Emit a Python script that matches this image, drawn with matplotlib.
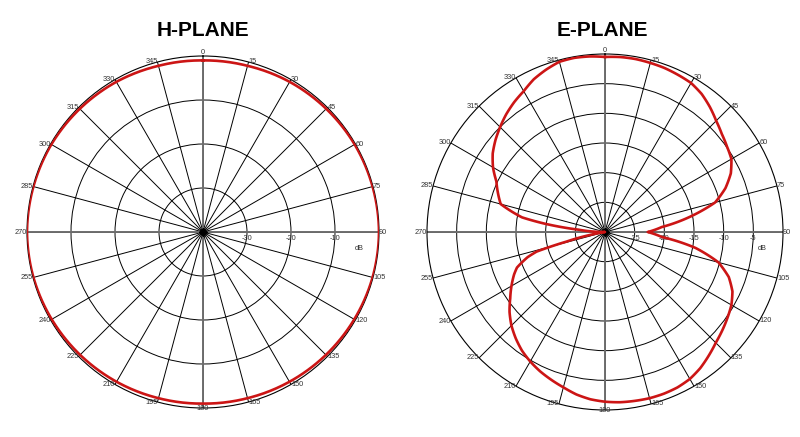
import numpy as np
import matplotlib
matplotlib.use('Agg')
from matplotlib import pyplot as plt

plt.rcParams['font.family'] = ['Liberation Sans', 'DejaVu Sans']

# H-plane: nearly omni, dB vs angle (deg, clockwise from top)
h_angle = [0, 15, 30, 45, 60, 75, 90, 105, 120, 135, 150, 165, 180,
           195, 210, 225, 240, 255, 270, 285, 300, 315, 330, 345, 360]
h_db = [-1.0, -0.9, -0.6, -0.4, -0.2, -0.1, 0.0, -0.1, -0.3, -0.5, -0.7, -0.9, -1.0,
        -0.9, -0.7, -0.5, -0.3, -0.1, 0.0, -0.1, -0.2, -0.4, -0.6, -0.9, -1.0]

# E-plane: figure-eight
e_angle = [0, 5, 10, 15, 20, 25, 30, 35, 40, 45, 50, 55, 60, 65, 70, 75, 80, 85, 90,
           95, 100, 105, 110, 115, 120, 125, 130, 135, 140, 145, 150, 155, 160, 165, 170, 175, 180,
           185, 190, 195, 200, 205, 210, 215, 220, 225, 230, 235, 240, 245, 248, 252, 254, 256, 260, 265, 270,
           275, 278, 280, 285, 290, 295, 300, 305, 310, 315, 320, 325, 330, 335, 340, 345, 350, 355, 360]
e_db = [-0.5, -0.4, -0.4, -0.5, -0.6, -0.8, -1.0, -1.6, -2.5, -3.5, -4.3, -4.9, -5.4, -6.6, -8.4, -10.8, -15.6, -20.4, -22.8,
        -20.4, -14.5, -10.2, -7.8, -6.3, -5.4, -4.8, -4.2, -3.6, -2.8, -2.0, -1.4, -1.1, -1.0, -1.0, -1.1, -1.2, -1.4,
        -1.7, -2.2, -2.9, -3.5, -4.1, -4.8, -5.6, -6.6, -7.7, -9.0, -10.5, -11.8, -13.1, -14.0, -16.3, -18.0, -23.3, -29.0, -29.8, -30.0,
        -25.5, -19.5, -15.8, -11.8, -10.8, -9.8, -8.2, -6.9, -5.9, -5.0, -4.1, -3.3, -2.6, -1.6, -0.9, -0.3, -0.2, -0.3, -0.5]

angle_ticks = list(range(0, 360, 15))
h_rings = [-30, -20, -10]
h_ring_labels = ['-30', '-20', '-10', '0']
e_rings = [-25, -20, -15, -10, -5]
e_ring_labels = ['-25', '-20', '-15', '-10', '-5', '0']

fig = plt.figure(figsize=(8, 4.37), dpi=100)


def polar_panel(rect, rmin, rings, ring_labels, ang, db, title, title_x, db_pos):
    ax = fig.add_axes(rect, projection='polar')
    ax.set_theta_zero_location('N')
    ax.set_theta_direction(-1)
    ax.set_ylim(rmin, 0)
    ax.set_thetagrids(angle_ticks, labels=[])
    ax.set_rgrids(rings, labels=[])
    ax.grid(True, color='black', linewidth=0.7)
    ax.spines['polar'].set_color('black')
    ax.spines['polar'].set_linewidth(0.8)

    # main axes drawn heavier and grey
    for t in [0, np.pi / 2]:
        ax.plot([t, t], [rmin, 0], color='#6e6e6e', lw=1.4, zorder=2)
        ax.plot([t + np.pi, t + np.pi], [rmin, 0], color='#6e6e6e', lw=1.4, zorder=2)
    ax.plot([0], [rmin], marker='D', color='black', ms=4, zorder=4)

    # angle labels around the rim
    for a in angle_ticks:
        s = np.sin(np.radians(a))
        if s > 0.05:
            ha = 'left'
        elif s < -0.05:
            ha = 'right'
        else:
            ha = 'center'
        va = 'bottom' if a == 0 else 'center'
        ax.text(np.radians(a), 0, str(a), ha=ha, va=va, fontsize=5.3,
                color='#333333', zorder=5, clip_on=False)

    # dB scale along 90 deg
    for r, lab in zip(list(rings) + [0], ring_labels):
        if lab == '0':
            continue
        ax.annotate(lab, xy=(np.pi / 2, r), xytext=(0, -2.5), textcoords='offset points',
                    ha='center', va='top', fontsize=5.3, color='#333333', zorder=5)
    ax.annotate('dB', xy=(np.pi / 2, db_pos), xytext=(0, -9), textcoords='offset points',
                ha='center', va='top', fontsize=5.3, color='#333333', zorder=5)

    line, = ax.plot(np.radians(ang), db, color='#cc1515', lw=1.9, zorder=6)
    # follow the polar arcs between the read points, like the grid circles do
    line.get_path()._interpolation_steps = 40
    fig.text(title_x, 1 - 30 / 437, title, ha='center', va='center',
             fontsize=15, fontweight='bold', color='black')
    return ax


polar_panel([(203 - 176) / 800, (437 - 232 - 176) / 437, 352 / 800, 352 / 437],
            -40, h_rings, h_ring_labels, h_angle, h_db, 'H-PLANE', 203 / 800, -4.6)
polar_panel([(605 - 178) / 800, (437 - 232 - 178) / 437, 356 / 800, 356 / 437],
            -30, e_rings, e_ring_labels, e_angle, e_db, 'E-PLANE', 602 / 800, -3.5)

fig.savefig('out.png', dpi=100, facecolor='white')
